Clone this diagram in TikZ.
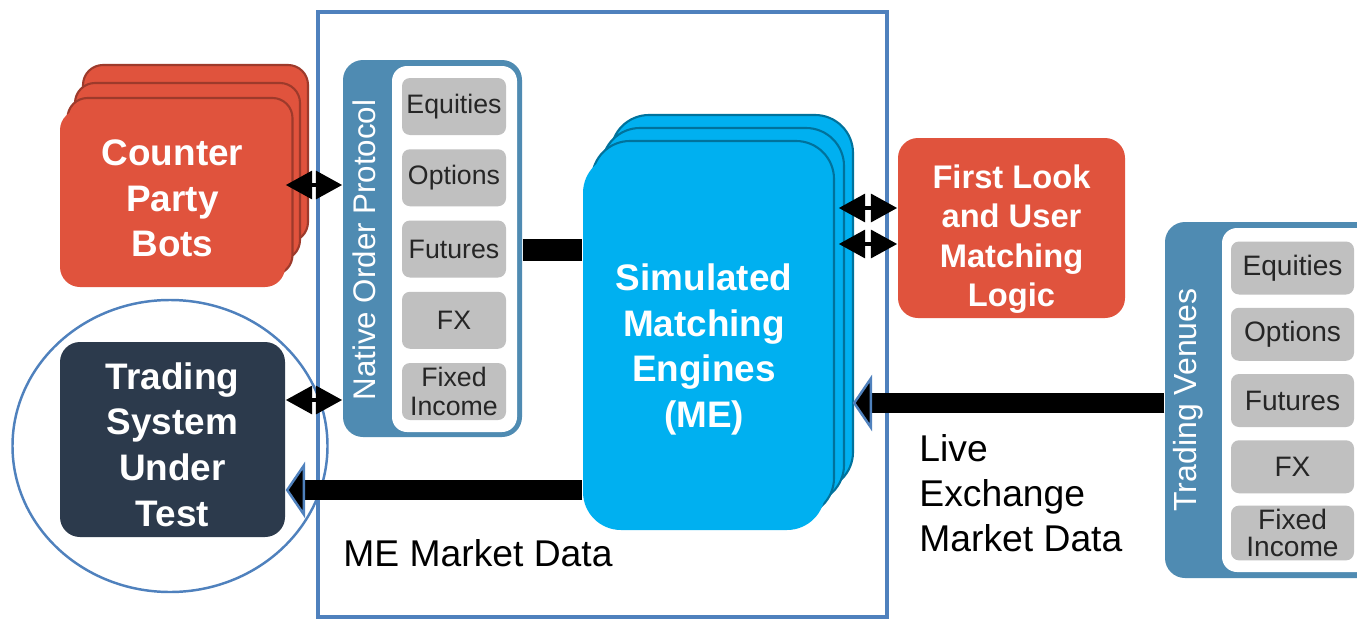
\documentclass[tikz,border=0pt]{standalone}
\usepackage{fontspec}
\setmainfont{Liberation Sans}
\usepackage{xcolor}
\usepackage{tikz}
\usetikzlibrary{arrows.meta}
\usetikzlibrary{shapes.geometric, calc}

\definecolor{botred}{RGB}{224,83,61}
\definecolor{sysnavy}{RGB}{44,58,76}
\definecolor{mecyan}{RGB}{0,176,240}
\definecolor{panelblue}{RGB}{79,139,178}
\definecolor{frameblue}{RGB}{79,129,189}
\definecolor{itemgray}{RGB}{192,192,192}

\tikzset{
  bigtext/.style={text=white, align=center, font=\fontsize{10.5}{13}\selectfont\bfseries},
  botbox/.style={rectangle, rounded corners=0.2cm, fill=botred, bigtext,
    minimum width=2.25cm, minimum height=1.77cm},
  botlayer/.style={fill=botred, draw=botred!70!black, line width=0.6pt, rounded corners=0.2cm},
  melayer/.style={fill=mecyan, draw=mecyan!65!black, line width=0.6pt, rounded corners=0.38cm},
  panel/.style={rectangle, rounded corners=0.2cm, fill=panelblue},
  itembox/.style={rectangle, rounded corners=0.08cm, fill=itemgray, align=center,
    text=black!85, inner xsep=0pt, inner ysep=1pt},
  dblarrow/.style={line width=1.4pt,
    {Triangle[length=7.5pt,width=7.8pt]}-{Triangle[length=7.5pt,width=7.8pt]}},
  bigarrow/.style={line width=5.7pt,
    -{Triangle[length=5.5pt,width=16pt,fill=black,color=frameblue,line width=0.7pt]}},
  plaintext/.style={align=left, font=\fontsize{10.6}{12.8}\selectfont}
}

\begin{document}
\begin{tikzpicture}
                \clip (0,0) rectangle (13.57,6.2);
                \fill[white] (0,0) rectangle (13.57,6.2);
                % ME frame
                \draw[frameblue, line width=1pt] (3.18,0.03) rectangle (8.87,6.08);
                % Counter party bots (stack)
                \foreach \dx/\dy in {0.23/0.48, 0.15/0.30, 0.075/0.15} {
                    \draw[botlayer] (0.60+\dx,3.30+\dy) rectangle (2.85+\dx,5.07+\dy);
                }
                \node[botbox] (cpb) at (1.725,4.215) {Counter\\Party\\Bots};
                % Trading system under test
                \draw[frameblue, line width=0.7pt] (1.70,1.74) ellipse (1.575 and 1.46);
                \node[botbox, fill=sysnavy, minimum height=1.95cm] (tsut) at (1.725,1.805) {};
                \node[bigtext] (tsuttext) at ([yshift=-0.05cm]tsut.center)
                    {Trading\\System\\Under\\Test};
                % Native order protocol
                \node[panel, minimum width=1.79cm, minimum height=3.77cm] (nop) at (4.325,3.715) {};
                \fill[white, rounded corners=0.15cm] (3.92,1.88) rectangle (5.17,5.54);
                \node[rotate=90, text=white, font=\fontsize{8.9}{10}\selectfont] (noplabel)
                    at (3.64,3.70) {Native Order Protocol};
                \foreach \txt [count=\i] in {Equities, Options, Futures, FX, {Fixed\\Income}} {
                    \node[itembox, minimum width=1.04cm, minimum height=0.57cm,
                        font=\fontsize{7.6}{8}\selectfont] (nop\i) at (4.54,{5.135-0.7125*(\i-1)}) {\txt};
                }
                % Simulated matching engines (stack)
                \foreach \dx/\dy in {0.28/0.40, 0.19/0.27, 0.09/0.14} {
                    \draw[melayer] (5.83+\dx,0.90+\dy) rectangle (8.25+\dx,4.65+\dy);
                }
                \node[rectangle, rounded corners=0.38cm, fill=mecyan,
                    minimum width=2.42cm, minimum height=3.75cm] (me) at (7.04,2.775) {};
                \node[bigtext] (metext) at ([yshift=-0.07cm]me.center)
                    {Simulated\\Matching\\Engines\\(ME)};
                \coordinate (meedge) at ([xshift=0.13cm]me.east);
                \coordinate (meback) at ([xshift=0.27cm]me.east);
                % First look
                \node[botbox, minimum width=2.27cm, minimum height=1.8cm] (flm) at (10.115,3.92) {};
                \node[bigtext, font=\fontsize{9.3}{11.2}\selectfont\bfseries] (flmtext)
                    at ([yshift=-0.11cm]flm.center) {First Look\\and User\\Matching\\Logic};
                % Trading venues
                \node[panel, minimum width=2.55cm, minimum height=3.56cm] (tv) at (12.925,2.2) {};
                \fill[white, rounded corners=0.15cm] (12.22,0.48) rectangle (14.2,3.92);
                \node[rotate=90, text=white, font=\fontsize{9.1}{10}\selectfont] (tvlabel)
                    at (11.88,2.20) {Trading Venues};
                \foreach \txt [count=\i] in {Equities, Options, Futures, FX, {Fixed\\Income}} {
                    \node[itembox, minimum width=1.23cm, minimum height=0.53cm,
                        font=\fontsize{8}{7.7}\selectfont] (tv\i) at (12.925,{3.52-0.6625*(\i-1)}) {\txt};
                }
                % connectors
                \draw[dblarrow] (cpb.east |- 0,4.35) -- (nop.west |- 0,4.35);
                \draw[dblarrow] (tsut.east |- 0,2.20) -- (nop.west |- 0,2.20);
                \draw[dblarrow] (meedge |- 0,4.12) -- (flm.west |- 0,4.12);
                \draw[dblarrow] (meedge |- 0,3.76) -- (flm.west |- 0,3.76);
                \draw[line width=6.5pt] (nop.east |- 0,3.70) -- (me.west |- 0,3.70);
                \draw[bigarrow] (me.west |- 0,1.30) -- (tsut.east |- 0,1.30);
                \draw[bigarrow] (tv.west |- 0,2.17) -- (meback |- 0,2.17);
                % labels
                \node[plaintext, anchor=west] (melabel) at (3.31,0.67) {ME Market Data};
                \node[plaintext, anchor=west] (livelabel) at (9.07,1.27)
                    {Live\\Exchange\\Market Data};
            \end{tikzpicture}
\end{document}
